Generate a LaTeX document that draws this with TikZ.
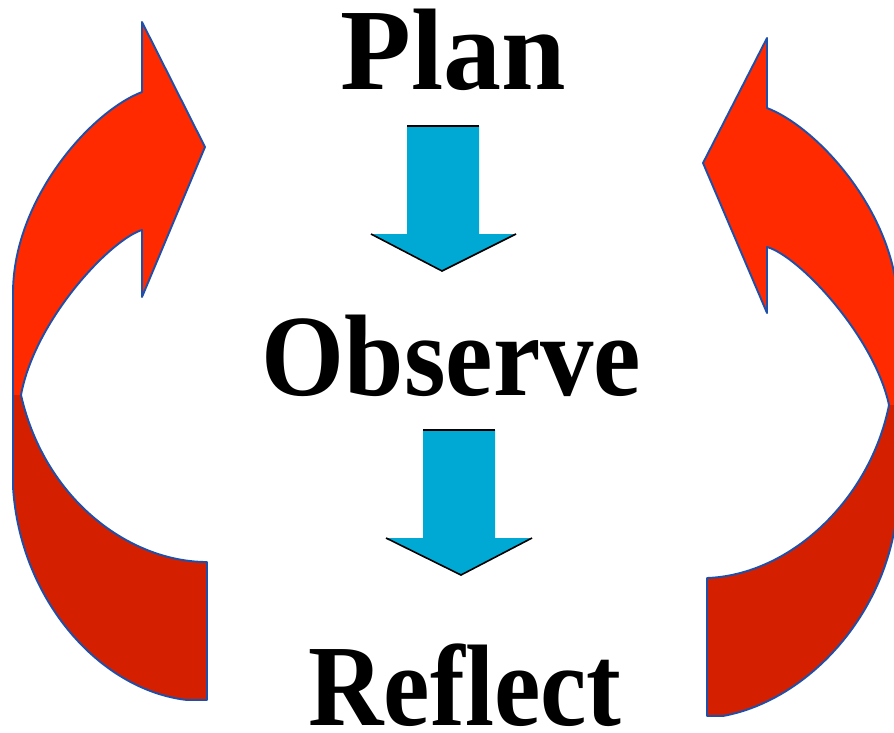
\documentclass[tikz,border=0pt]{standalone}
\usepackage{fontspec}
\setmainfont{Liberation Serif}
\definecolor{arrowred}{RGB}{255,42,0}
\definecolor{arrowdark}{RGB}{212,32,0}
\definecolor{outlineblue}{RGB}{30,80,170}
\definecolor{arrowblue}{RGB}{0,168,212}
\begin{document}
\begin{tikzpicture}[x=1pt,y=-1pt,
  redup/.style={fill=arrowred},
  reddown/.style={fill=arrowdark},
  redline/.style={draw=outlineblue, line width=1.9pt, line join=round},
  bluefill/.style={fill=arrowblue},
  shadowline/.style={draw=black, line width=1.6pt},
  word/.style={font=\fontsize{116}{116}\selectfont\bfseries, inner sep=0pt, anchor=base}]
\useasboundingbox (0,0) rectangle (894,733);
\clip (0,0) rectangle (894,733);

% ---- left curved arrow ----
\path[redup] (142,92) -- (142,22) -- (205,147) -- (142,297) -- (142,230)
  .. controls (110,240) and (35,320) .. (21,395) -- (13,395) -- (13,293)
  .. controls (13,200) and (90,112) .. (142,92) -- cycle;
\path[reddown] (13,395) -- (13,487) .. controls (20,600) and (100,690) .. (187,700)
  -- (207,700) -- (207,562) .. controls (130,562) and (45,500) .. (21,395) -- cycle;
\path[redline] (142,92) -- (142,22) -- (205,147) -- (142,297) -- (142,230)
  .. controls (110,240) and (35,320) .. (21,395)
  .. controls (45,500) and (130,562) .. (207,562) -- (207,700) -- (187,700)
  .. controls (100,690) and (20,600) .. (13,487) -- (13,293)
  .. controls (13,200) and (90,112) .. (142,92) -- cycle;

% ---- right curved arrow ----
\path[redup] (767,108) -- (767,38) -- (703,163) -- (767,313) -- (767,247)
  .. controls (799,256) and (874,336) .. (889,405) -- (898,405) -- (898,309)
  .. controls (898,216) and (819,128) .. (767,108) -- cycle;
\path[reddown] (898,405) -- (898,500) .. controls (892,610) and (810,700) .. (723,716)
  -- (707,716) -- (707,578) .. controls (790,575) and (870,500) .. (889,405) -- cycle;
\path[redline] (767,108) -- (767,38) -- (703,163) -- (767,313) -- (767,247)
  .. controls (799,256) and (874,336) .. (889,405)
  .. controls (870,500) and (790,575) .. (707,578) -- (707,716) -- (723,716)
  .. controls (810,700) and (892,610) .. (898,500) -- (898,309)
  .. controls (898,216) and (819,128) .. (767,108) -- cycle;

% ---- blue down arrows ----
\path[bluefill] (407,126) -- (479,126) -- (479,234) -- (516,234) -- (442,271)
  -- (371,234) -- (407,234) -- cycle;
\path[shadowline] (407,126) -- (479,126);
\path[shadowline] (371,234) -- (442,271) -- (516,234);

\path[bluefill] (423,430) -- (495,430) -- (495,538) -- (532,538) -- (461,575)
  -- (386,538) -- (423,538) -- cycle;
\path[shadowline] (423,430) -- (495,430);
\path[shadowline] (386,538) -- (461,575) -- (532,538);

% ---- words ----
\node[word] (plan) at (453,90) {Plan};
\node[word] (observe) at (451.5,395) {\scalebox{0.92}[1]{Observe}};
\node[word] (reflect) at (465,725) {\scalebox{0.9}[1]{Reflect}};
\end{tikzpicture}
\end{document}
